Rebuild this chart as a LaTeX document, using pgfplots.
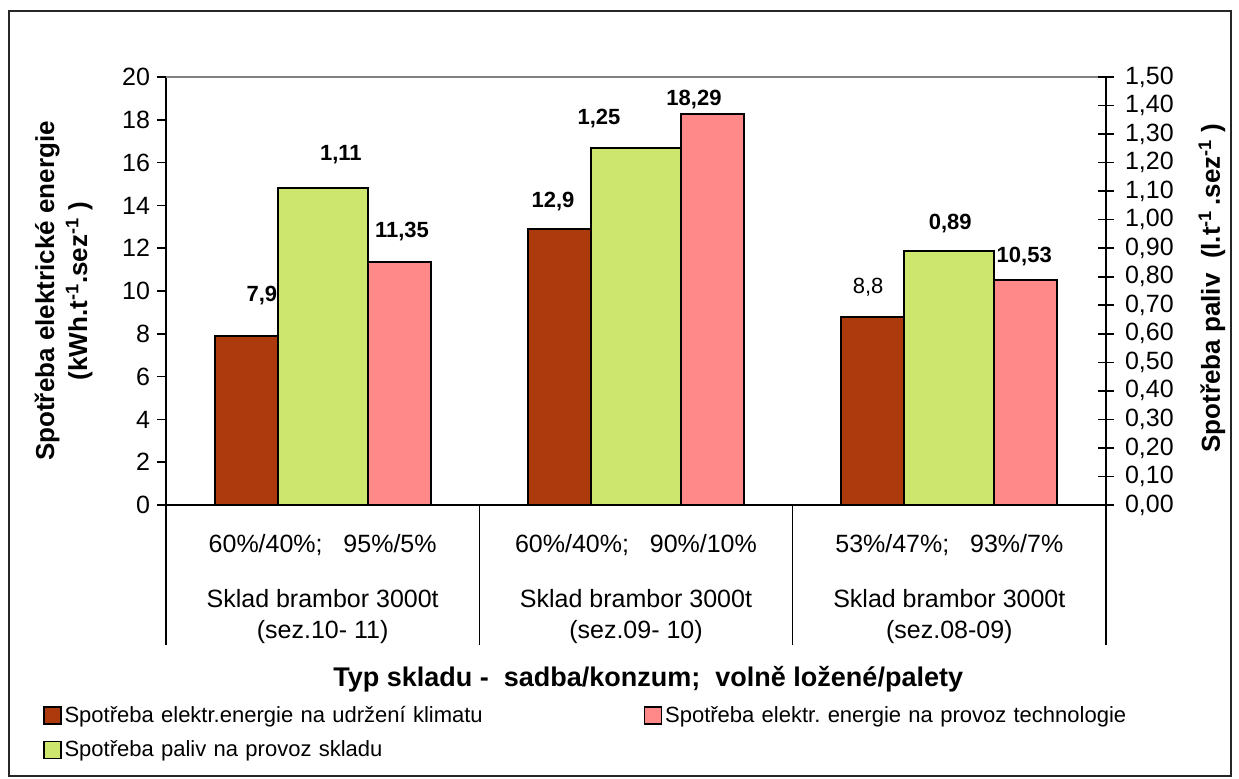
\documentclass[border=0pt]{standalone}
\usepackage{fontspec}
\setmainfont{Liberation Sans}
\usepackage{pgfplots}
\pgfplotsset{compat=1.18}
\definecolor{barred}{RGB}{172,58,12}
\definecolor{bargreen}{RGB}{204,230,110}
\definecolor{barpink}{RGB}{255,136,136}
\frenchspacing
\begin{document}
\begin{tikzpicture}[font=\fontsize{12.5}{15.5}\selectfont]
\pgfplotsset{
  common/.style={
    scale only axis, width=470pt, height=214pt,
    at={(83pt,136.5pt)}, anchor=south west,
    xmin=-0.5, xmax=2.5, clip=false,
    tick label style={font=\fontsize{12.5}{15.5}\selectfont},
    axis line style={line width=0.8pt, black},
    every tick/.style={black, line width=0.8pt},
    /pgf/number format/assume math mode=true,
  }
}
\draw[line width=0.8pt, black!85] (4.5pt,1pt) rectangle (615.5pt,383.5pt);
\begin{axis}[common,
  ymin=0, ymax=20, ytick={0,2,4,6,8,10,12,14,16,18,20},
  axis y line*=left, axis x line*=bottom,
  ytick align=outside, major tick length=4.5pt,
  xtick={0,1,2}, xtick style={draw=none},
  xticklabels={
    {60\%/40\%;\ \ \ 95\%/5\%\\[12pt]Sklad brambor 3000t\\(sez.10- 11)},
    {60\%/40\%;\ \ \ 90\%/10\%\\[12pt]Sklad brambor 3000t\\(sez.09- 10)},
    {53\%/47\%;\ \ \ 93\%/7\%\\[12pt]Sklad brambor 3000t\\(sez.08-09)}},
  xticklabel style={align=center, anchor=north, yshift=-11pt},
  ylabel={Spotřeba elektrické energie\\(kWh.t\textsuperscript{-1}.sez\textsuperscript{-1} )},
  every axis y label/.style={at={(axis description cs:-0.109,0.5)}, rotate=90, anchor=center, align=center, font=\bfseries\fontsize{13}{16.5}\selectfont},
  xlabel={Typ skladu -\ \ sadba/konzum;\ \ volně ložené/palety},
  every axis x label/.style={at={(axis description cs:0.513,-0.406)}, anchor=center, font=\bfseries\fontsize{13.5}{16}\selectfont},
  legend image code/.code={\draw[#1,/tikz/.cd,line width=0.8pt] (0pt,-4.25pt) rectangle (8.5pt,4.25pt);},
  legend columns=2, legend cell align=left,
  legend style={at={(axis description cs:-0.1309,-0.463)}, anchor=north west, draw=none, fill=none,
    inner sep=0pt, outer sep=0pt, row sep=4.5pt, font=\fontsize{11}{13.5}\selectfont,
    nodes={inner sep=1.5pt, text width=288pt, align=left},
    /tikz/every even column/.append style={column sep=0pt}},
]
\addplot[ybar, bar width=0.2011, bar shift=-0.2445, fill=barred, draw=black, line width=1pt]
  coordinates {(0,7.9) (1,12.9) (2,8.8)};
\addlegendentry{Spotřeba elektr.energie na udržení klimatu}
\addplot[ybar, bar width=0.2011, bar shift=0.2445, fill=barpink, draw=black, line width=1pt]
  coordinates {(0,11.35) (1,18.29) (2,10.53)};
\addlegendentry{Spotřeba elektr. energie na provoz technologie}
\addlegendimage{fill=bargreen, draw=black}
\addlegendentry{Spotřeba paliv na provoz skladu}
\draw[line width=0.8pt] (axis cs:-0.5,0) -- ++(0pt,-70pt);
\draw[line width=0.8pt] (axis cs:0.5,0) -- ++(0pt,-70pt);
\draw[line width=0.8pt] (axis cs:1.5,0) -- ++(0pt,-70pt);
\draw[line width=0.8pt] (axis cs:2.5,0) -- ++(0pt,-70pt);
\draw[line width=0.6pt, gray] (rel axis cs:0,1) -- (rel axis cs:1,1);
\begin{scope}[every node/.style={font=\bfseries\fontsize{11}{13}\selectfont}]
\node at (axis cs:-0.194,9.81) {7,9};
\node at (axis cs:0.058,16.36) {1,11};
\node at (axis cs:0.253,12.76) {11,35};
\node at (axis cs:0.735,14.16) {12,9};
\node at (axis cs:0.882,18.04) {1,25};
\node at (axis cs:1.185,18.93) {18,29};
\node[font=\fontsize{11}{13}\selectfont] at (axis cs:1.741,10.19) {8,8};
\node at (axis cs:2.003,13.13) {0,89};
\node at (axis cs:2.239,11.59) {10,53};
\end{scope}
\end{axis}
\begin{axis}[common,
  ymin=0, ymax=1.5,
  ytick={0,0.1,0.2,0.3,0.4,0.5,0.6,0.7,0.8,0.9,1.0,1.1,1.2,1.3,1.4,1.5},
  axis y line*=right, axis x line=none,
  ytick align=center, major tick length=8pt,
  yticklabel style={xshift=2pt, /pgf/number format/.cd, fixed, fixed zerofill, precision=2, use comma},
  ylabel={Spotřeba paliv\ \ (l.t\textsuperscript{-1}\,.sez\textsuperscript{-1} )},
  every axis y label/.style={at={(axis description cs:1.1128,0.507)}, rotate=90, anchor=center, font=\bfseries\fontsize{13}{16}\selectfont},
]
\addplot[ybar, bar width=0.2873, bar shift=0, fill=bargreen, draw=black, line width=1pt]
  coordinates {(0,1.11) (1,1.25) (2,0.89)};
\end{axis}
\pgfresetboundingbox
\path[use as bounding box] (0pt,0pt) rectangle (619.5pt,389pt);
\end{tikzpicture}
\end{document}
